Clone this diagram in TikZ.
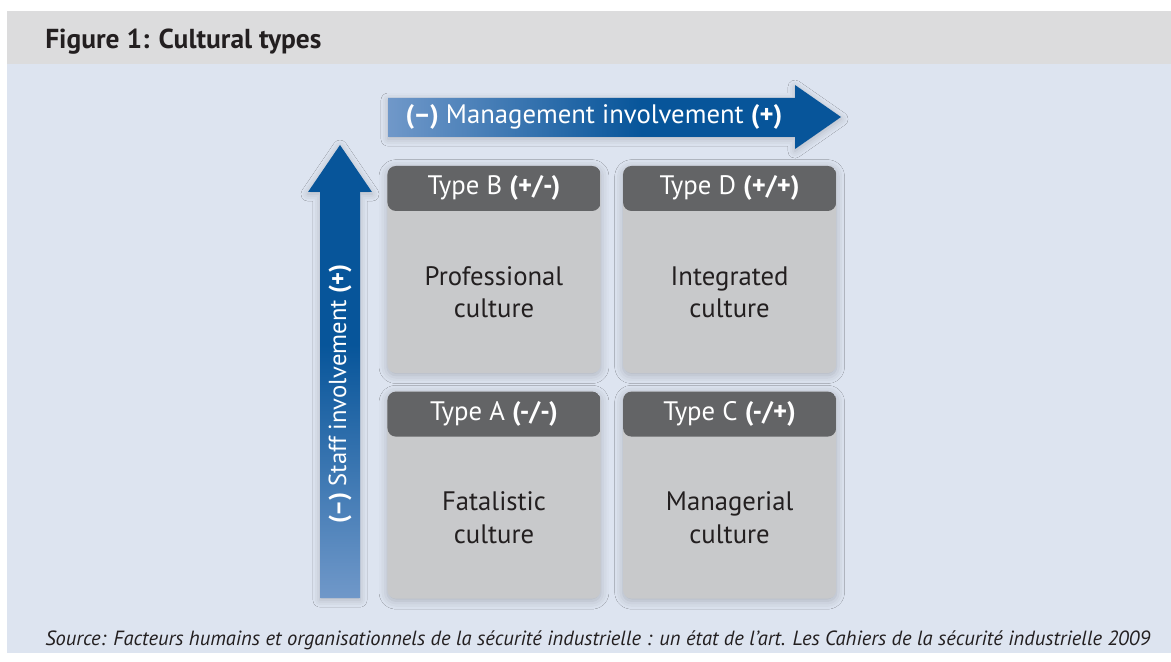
\documentclass[tikz,border=0pt]{standalone}
\usepackage{fontspec}
\setmainfont{PT Sans}
\usepackage{xcolor}
\usetikzlibrary{positioning,shadows.blur}

\definecolor{headerbg}{HTML}{DCDCDD}
\definecolor{bodybg}{HTML}{DDE4F0}
\definecolor{headgray}{HTML}{636466}
\definecolor{cellgray}{HTML}{C8C9CB}
\definecolor{textdark}{HTML}{231F20}
\definecolor{arrowlight}{HTML}{7098C9}
\definecolor{arrowdark}{HTML}{07559A}

\pgfdeclarehorizontalshading{mgmtshade}{100bp}{color(0bp)=(arrowlight); color(25bp)=(arrowlight); color(53bp)=(arrowdark); color(100bp)=(arrowdark)}
\pgfdeclareverticalshading{staffshade}{100bp}{color(0bp)=(arrowlight); color(25bp)=(arrowlight); color(53bp)=(arrowdark); color(100bp)=(arrowdark)}

\begin{document}
\begin{tikzpicture}[x=0.025cm, y=-0.025cm,
  cellbox/.style={rounded corners=6pt, fill=cellgray, inner sep=0pt,
    minimum width=5.325cm, minimum height=5.175cm,
    blur shadow={shadow xshift=0pt, shadow yshift=-1.5pt, shadow blur radius=6pt, shadow opacity=22},
    path picture={\fill[headgray] (path picture bounding box.north west) rectangle ([yshift=-1.125cm]path picture bounding box.north east);}},
  headtext/.style={text=white, font=\fontsize{19}{22}\selectfont},
  bodytext/.style={text=textdark, align=center, font=\fontsize{19}{23}\selectfont},
  arrowtext/.style={text=white, font=\fontsize{19}{22}\selectfont},
  arrowshadow/.style={blur shadow={shadow xshift=0pt, shadow yshift=-1.5pt, shadow blur radius=5pt, shadow opacity=20}}]
  \useasboundingbox (0,0) rectangle (1171,662);
  \fill[headerbg] (7,11) rectangle (1171,64);
  \fill[bodybg] (7,64) rectangle (1171,653);

  \node[anchor=base west, inner sep=0pt, text=textdark, font=\bfseries\fontsize{19.5}{22}\selectfont] (title) at (45,49) {Figure 1: Cultural types};

  % axes
  \shade[shading=mgmtshade, arrowshadow] (388,98) -- (795,98) -- (795,85) -- (841,117) -- (795,149) -- (795,137) -- (388,137) -- cycle;
  \shade[shading=staffshade, arrowshadow] (320,598) -- (320,192) -- (308,192) -- (340,145) -- (372,192) -- (360,192) -- (360,598) -- cycle;
  \node[arrowtext] (mgmt) at (594,117) {\textbf{(--)} Management involvement \textbf{(+)}};
  \node[arrowtext, rotate=90, font=\fontsize{17.5}{20}\selectfont] (staff) at (340,394) {\textbf{(--)} Staff involvement \textbf{(+)}};

  % the four types
  \node[cellbox] (B) at (494,269.5) {};
  \node[cellbox, right=0.55cm of B] (D) {};
  \node[cellbox, below=0.45cm of B] (A) {};
  \node[cellbox, right=0.55cm of A] (C) {};

  \node[headtext] (B-head) at ([yshift=-0.5625cm]B.north) {Type B \textbf{(+/-)}};
  \node[headtext] (D-head) at ([yshift=-0.5625cm]D.north) {Type D \textbf{(+/+)}};
  \node[headtext] (A-head) at ([yshift=-0.5625cm]A.north) {Type A \textbf{(-/-)}};
  \node[headtext] (C-head) at ([yshift=-0.5625cm]C.north) {Type C \textbf{(-/+)}};

  \node[bodytext] (B-body) at ([yshift=-0.5625cm]B.center) {Professional\\culture};
  \node[bodytext] (D-body) at ([yshift=-0.5625cm]D.center) {Integrated\\culture};
  \node[bodytext] (A-body) at ([yshift=-0.5625cm]A.center) {Fatalistic\\culture};
  \node[bodytext] (C-body) at ([yshift=-0.5625cm]C.center) {Managerial\\culture};

  \node[anchor=base west, inner sep=0pt, text=textdark, font=\itshape\fontsize{14.6}{17}\selectfont] (source) at (45,645) {Source: Facteurs humains et organisationnels de la sécurité industrielle : un état de l’art. Les Cahiers de la sécurité industrielle 2009};
\end{tikzpicture}
\end{document}
